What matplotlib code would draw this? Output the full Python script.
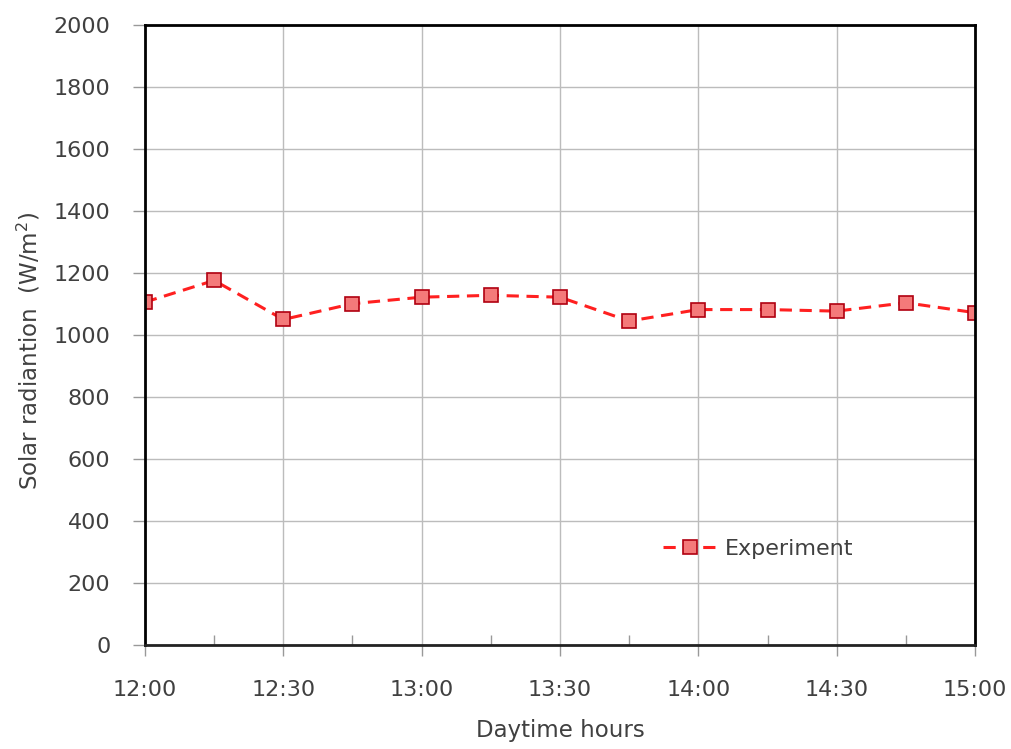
import matplotlib
matplotlib.use("Agg")
import matplotlib.pyplot as plt
from matplotlib.ticker import MultipleLocator

times = ["12:00", "12:15", "12:30", "12:45", "13:00", "13:15", "13:30",
         "13:45", "14:00", "14:15", "14:30", "14:45", "15:00"]
radiation = [1106, 1176, 1050, 1101, 1122, 1128, 1122,
             1045, 1082, 1082, 1077, 1104, 1072]
tick_labels = ["12:00", "12:30", "13:00", "13:30", "14:00", "14:30", "15:00"]

def to_min(t):
    h, m = t.split(":")
    return int(h) * 60 + int(m)

x = [to_min(t) for t in times]
xt = [to_min(t) for t in tick_labels]

plt.rcParams['font.family'] = ['DejaVu Sans']
txt = '#404040'

fig = plt.figure(figsize=(10.11, 7.49), dpi=100)
ax = fig.add_axes([0.1434, 0.1389, 0.8210, 0.8277])

ax.plot(x, radiation, linestyle=(0, (4, 2.5)), color='#ff2020', linewidth=2.2,
        marker='s', markersize=10.5, markerfacecolor='#f47a7a',
        markeredgecolor='#b00010', markeredgewidth=1.2, label='Experiment')

ax.set_xlim(xt[0], xt[-1])
ax.set_ylim(0, 2000)
ax.set_xticks(xt)
ax.set_xticklabels(tick_labels)
ax.xaxis.set_minor_locator(MultipleLocator(15))
ax.yaxis.set_major_locator(MultipleLocator(200))

ax.grid(True, which='major', color='#bcbcbc', linewidth=1.0)
ax.set_axisbelow(True)

ax.tick_params(axis='x', which='major', direction='out', length=8, width=1,
               color='#999999', labelsize=16, labelcolor=txt, pad=17)
ax.tick_params(axis='x', which='minor', direction='in', length=7, width=1,
               color='#999999')
ax.tick_params(axis='y', which='major', direction='out', length=9, width=1,
               color='#999999', labelsize=16, labelcolor=txt, pad=16)

for s in ['left', 'right', 'top']:
    ax.spines[s].set_linewidth(2.0)
    ax.spines[s].set_color('black')
ax.spines['bottom'].set_linewidth(2.0)
ax.spines['bottom'].set_color('#222222')

ax.set_xlabel('Daytime hours', fontsize=16.5, color=txt, labelpad=14)
ax.set_ylabel(r'Solar radiantion  (W/m$^{2}$)', fontsize=16.5, color=txt)
ax.yaxis.set_label_coords(-0.124, 0.475)

leg = ax.legend(loc='center left', bbox_to_anchor=(0.6, 0.155), frameon=False,
                fontsize=16, handlelength=2.4, handletextpad=0.4)
for t in leg.get_texts():
    t.set_color(txt)

fig.savefig('out.png', dpi=100)
